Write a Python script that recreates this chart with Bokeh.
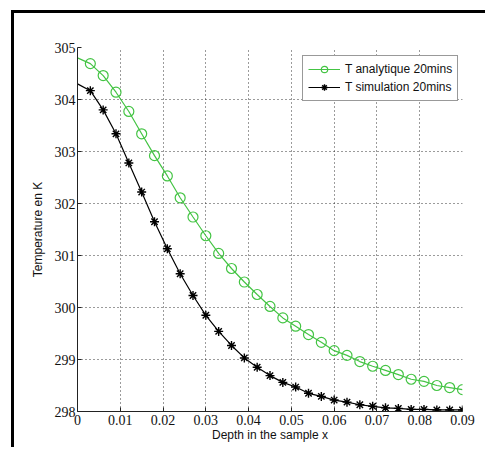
from bokeh.plotting import figure
from bokeh.models import Range1d, FixedTicker, Legend, LegendItem
from bokeh.embed import file_html
from bokeh.resources import INLINE

depth = [0.0, 0.003, 0.006, 0.009, 0.012, 0.015, 0.018, 0.021, 0.024, 0.027,
         0.030, 0.033, 0.036, 0.039, 0.042, 0.045, 0.048, 0.051, 0.054, 0.057,
         0.060, 0.063, 0.066, 0.069, 0.072, 0.075, 0.078, 0.081, 0.084, 0.087, 0.090]
t_analytique = [304.80, 304.69, 304.46, 304.14, 303.77, 303.34, 302.92, 302.53, 302.11, 301.74,
                301.38, 301.04, 300.75, 300.49, 300.25, 300.02, 299.80, 299.64, 299.48, 299.33,
                299.17, 299.08, 298.96, 298.87, 298.79, 298.71, 298.62, 298.58, 298.50, 298.46, 298.42]
t_simulation = [304.30, 304.17, 303.80, 303.34, 302.78, 302.22, 301.65, 301.13, 300.65, 300.23,
                299.85, 299.54, 299.27, 299.03, 298.85, 298.69, 298.56, 298.47, 298.35, 298.29,
                298.22, 298.18, 298.13, 298.10, 298.07, 298.06, 298.04, 298.04, 298.03, 298.03, 298.03]
x_ticks = [0, 0.01, 0.02, 0.03, 0.04, 0.05, 0.06, 0.07, 0.08, 0.09]
y_ticks = [298, 299, 300, 301, 302, 303, 304, 305]
label_analytique = "T analytique 20mins"
label_simulation = "T simulation 20mins"

p = figure(width=474, height=437, output_backend="svg", toolbar_location=None,
           x_range=Range1d(0, 0.09), y_range=Range1d(298, 305),
           min_border_left=63, min_border_right=26, min_border_top=34, min_border_bottom=39)
p.styles = {"margin-left": "11px", "margin-top": "10px",
            "border-left": "3px solid black", "border-top": "3px solid black"}
p.outline_line_color = None
p.background_fill_color = "white"
p.border_fill_color = "white"

for ax in (p.xaxis, p.yaxis):
    ax.axis_line_color = "#222222"
    ax.major_tick_in = 4
    ax.major_tick_out = 0
    ax.minor_tick_line_color = None
    ax.major_tick_line_color = "#222222"
    ax.major_label_text_font = "Liberation Sans Narrow"
    ax.major_label_text_font_size = "14px"
    ax.major_label_text_color = "#111111"
    ax.axis_label_text_font = "Liberation Sans"
    ax.axis_label_text_font_size = "12px"
    ax.axis_label_text_font_style = "normal"
    ax.axis_label_text_color = "#111111"

p.xaxis.ticker = FixedTicker(ticks=x_ticks)
p.yaxis.ticker = FixedTicker(ticks=y_ticks)
p.xaxis.major_label_overrides = {t: ("0" if t == 0 else f"{t:g}") for t in x_ticks}
p.xaxis.axis_label = "Depth in the sample x"
p.yaxis.axis_label = "Temperature en K"
p.xaxis.major_label_standoff = 3
p.yaxis.major_label_standoff = 2
p.xaxis.axis_label_standoff = 0
p.yaxis.axis_label_standoff = 7

for g in (p.xgrid, p.ygrid):
    g.grid_line_color = "#222222"
    g.grid_line_dash = "1 3"
    g.grid_line_alpha = 0.9

green = "#44c444"
la = p.line(depth, t_analytique, line_color=green, line_width=1.2)
sa = p.scatter(depth[1:], t_analytique[1:], marker="circle", size=10,
               line_color=green, fill_color=None, line_width=1.2)
ls = p.line(depth, t_simulation, line_color="black", line_width=1.2)
ss = p.scatter(depth[1:], t_simulation[1:], marker="asterisk", size=9,
               line_color="black", line_width=1.4)

legend = Legend(items=[LegendItem(label=label_analytique, renderers=[la, sa]),
                       LegendItem(label=label_simulation, renderers=[ls, ss])],
                location=(225, 310), margin=0, padding=5, spacing=2,
                glyph_width=32, glyph_height=16, label_height=16, label_standoff=5,
                label_text_font="Liberation Sans", label_text_font_size="12px",
                label_text_color="#111111",
                border_line_color="#333333", border_line_width=1,
                background_fill_color="white", background_fill_alpha=1)
p.add_layout(legend, "center")

open("out.html", "w").write(file_html(p, INLINE))
